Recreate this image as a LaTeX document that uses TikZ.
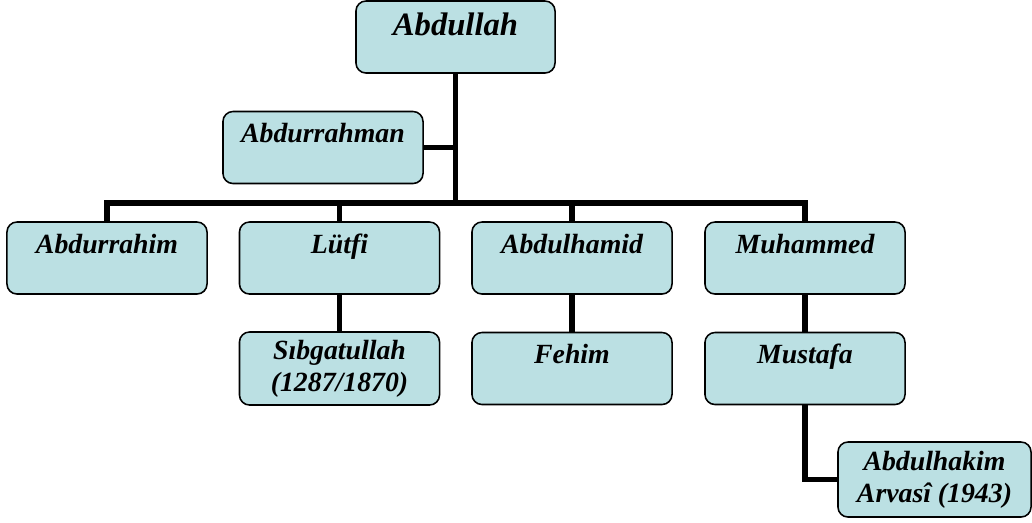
\documentclass[tikz,border=0pt]{standalone}
\usepackage{fontspec}
\setmainfont{Liberation Serif}

\definecolor{boxblue}{RGB}{187,224,227}
\tikzset{
  person/.style={draw=black, line width=1.1pt, fill=boxblue, rounded corners=0.25cm,
    minimum width=5cm, inner ysep=0pt, align=center,
    font=\fontsize{19.75}{22.8}\selectfont\bfseries\itshape},
  solo/.style={person, text height=0.775cm, text depth=1.025cm},
  duo/.style={person, minimum height=1.825cm},
  link/.style={line width=3.6pt}
}

\begin{document}
\begin{tikzpicture}[x=0.025cm, y=-0.025cm]
\useasboundingbox (0,0) rectangle (1032,522);

\node[solo, minimum width=4.975cm, text height=0.85cm, text depth=0.95cm,
  font=\fontsize{23.2}{26}\selectfont\bfseries\itshape] (abdullah) at (455.5,37) {Abdullah};
\node[solo] (abdurrahman) at (323,147.5) {Abdurrahman};

\node[solo] (abdurrahim) at (107,258) {Abdurrahim};
\node[solo] (lutfi) at (339.5,258) {Lütfi};
\node[solo] (abdulhamid) at (572,258) {Abdulhamid};
\node[solo] (muhammed) at (805,258) {Muhammed};

\node[duo] (sibgatullah) at (339.5,368.5) {Sıbgatullah\\(1287/1870)};
\node[solo] (fehim) at (572,368.5) {Fehim};
\node[solo] (mustafa) at (805,368.5) {Mustafa};

\node[duo, minimum width=4.825cm, minimum height=1.875cm] (abdulhakim) at (934.5,479.5) {Abdulhakim\\Arvasî (1943)};

\coordinate (bus) at (455.5,203);
\draw[link] (abdullah) -- (bus);
\draw[link] (abdurrahman) -- (abdurrahman -| bus);
\draw[link] (abdurrahim) |- (bus) -| (muhammed);
\draw[link] (lutfi) -- (lutfi |- bus);
\draw[link] (abdulhamid) -- (abdulhamid |- bus);

\draw[link] (lutfi) -- (sibgatullah);
\draw[link] (abdulhamid) -- (fehim);
\draw[link] (muhammed) -- (mustafa);
\draw[link] (mustafa) |- (abdulhakim);

\end{tikzpicture}
\end{document}
